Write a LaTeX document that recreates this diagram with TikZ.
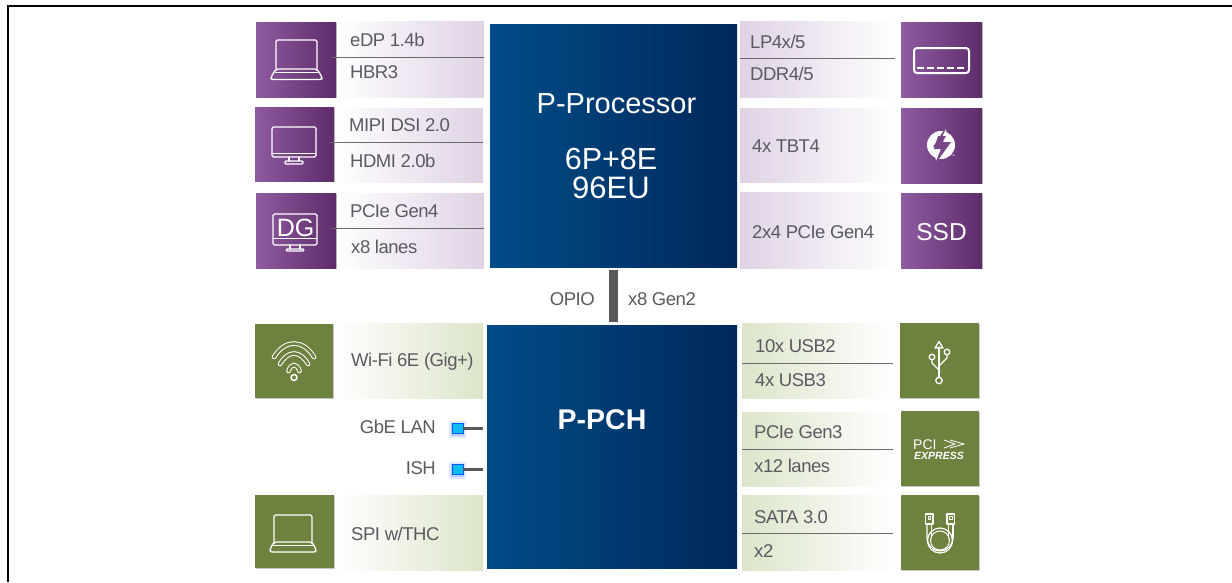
\documentclass[tikz,border=0pt]{standalone}
\usepackage{fontspec}
\setmainfont{Liberation Sans}
\newfontfamily\lblfont[LetterSpace=-2.5]{Liberation Sans}
\usetikzlibrary{shadows}
\definecolor{txt}{HTML}{5A5A60}
\definecolor{purL}{HTML}{8E5C9F}
\definecolor{purR}{HTML}{5E2C6B}
\definecolor{purS}{HTML}{DFD2E5}
\definecolor{grn}{HTML}{6E8240}
\definecolor{grnS}{HTML}{DCE5C9}
\definecolor{chipL}{HTML}{004C88}
\definecolor{chipR}{HTML}{00285A}
\definecolor{bar}{HTML}{595959}
\definecolor{port}{HTML}{10BDF2}
\tikzset{
  wh/.style 2 args={minimum width=#1pt,minimum height=#2pt,anchor=north west,inner sep=0pt,outer sep=0pt},
  softshadow/.style={drop shadow={shadow xshift=.8pt,shadow yshift=-.8pt,opacity=.22,fill=black}},
  pbox/.style={left color=purL,right color=purR,softshadow},
  gbox/.style={fill=grn,softshadow},
  chip/.style={left color=chipL,right color=chipR},
  stripL/.style={left color=white,right color=purS},
  stripR/.style={left color=purS,right color=white},
  gstripL/.style={left color=white,right color=grnS},
  gstripR/.style={left color=grnS,right color=white},
  sepline/.style={draw=black!58,line width=1pt},
  lbl/.style={anchor=base west,inner sep=0pt,text=txt,font=\lblfont\fontsize{18.5}{20}\selectfont},
  lblr/.style={lbl,anchor=base east},
  ttl/.style={anchor=base,inner sep=0pt,text=white},
  ic/.style={draw=white,line width=1.3pt,line join=round,line cap=round},
  conn/.style={draw=bar,line width=3pt},
  portbox/.style={wh={11}{10},fill=port,draw=blue!65!cyan,line width=.5pt},
}
\begin{document}
\begin{tikzpicture}[x=1pt,y=-1pt]
\useasboundingbox (0,0) rectangle (1232,582);
\fill[white] (0,0) rectangle (1232,582);
% page frame
\coordinate (fa) at (7.8,582);
\coordinate (fb) at (7.8,6.2);
\coordinate (fc) at (1232,6.2);
\draw[black,line width=1.5pt] (fa) -- (fb) -- (fc);

% strips
\node[wh={148}{76},stripL] (sa) at (336,21) {};
\node[wh={149}{74},stripL] (sb) at (334,108) {};
\node[wh={148}{75},stripL] (sc) at (336,193) {};
\node[wh={155}{76},stripR] (sd) at (740,21) {};
\node[wh={155}{74},stripR] (se) at (740,108) {};
\node[wh={155}{76},stripR] (sf) at (740,192) {};
\node[wh={150}{75},gstripL] (sg) at (333,323) {};
\node[wh={149}{75},gstripL] (sh) at (334,495) {};
\node[wh={151}{75},gstripR] (si) at (742,323) {};
\node[wh={151}{74},gstripR] (sj) at (742,412) {};
\node[wh={151}{75},gstripR] (sk) at (742,495) {};

% coloured icon boxes
\node[wh={80}{75},pbox] (ba) at (256,22) {};
\node[wh={79}{74},pbox] (bb) at (255,107) {};
\node[wh={80}{75},pbox] (bc) at (256,193) {};
\node[wh={81}{75},pbox] (bd) at (901,22) {};
\node[wh={81}{75},pbox] (be) at (901,108) {};
\node[wh={81}{75},pbox] (bf) at (901,193) {};
\node[wh={78}{74},gbox] (bg) at (255,324) {};
\node[wh={79}{73},gbox] (bh) at (255,495) {};
\node[wh={79}{75},gbox] (bi) at (900,323) {};
\node[wh={78}{75},gbox] (bj) at (901,411) {};
\node[wh={78}{75},gbox] (bk) at (901,495) {};

% chips
\node[wh={247}{243},chip] (proc) at (490,24) {};
\node[wh={250}{243},chip] (pch) at (487,325) {};
\node[ttl,font=\fontsize{29}{30}\selectfont] (tproc) at (616.5,113) {P-Processor};
\node[ttl,font=\fontsize{30.5}{30}\selectfont] (tcore) at (611,169) {6P+8E};
\node[ttl,font=\fontsize{31}{30}\selectfont] (teu) at (611,198) {96EU};
\node[ttl,font=\fontsize{28.5}{30}\selectfont\bfseries] (tpch) at (602,429.5) {P-PCH};

% OPIO link
\draw[draw=bar,line width=9pt,shorten <=3pt,shorten >=3pt] (proc.south) -- (proc.south |- pch.north);
\node[lblr] (opio) at (595,305) {OPIO};
\node[lbl] (gen2) at (628,305) {x8 Gen2};

% separators
\coordinate (la) at (331,57);
\coordinate (lb) at (330,142);
\coordinate (lc) at (331,228);
\coordinate (ld) at (740,58);
\coordinate (le) at (742,363);
\coordinate (lf) at (742,449);
\coordinate (lg) at (742,533);
\draw[sepline] (la) -- (la -| sa.east);
\draw[sepline] (lb) -- (lb -| sb.east);
\draw[sepline] (lc) -- (lc -| sc.east);
\draw[sepline] (ld) -- (ld -| sd.east);
\draw[sepline] (le) -- (le -| si.east);
\draw[sepline] (lf) -- (lf -| sj.east);
\draw[sepline] (lg) -- (lg -| sk.east);

% labels
\node[lbl] (t1) at (350,46) {eDP 1.4b};
\node[lbl] (t2) at (350,78) {HBR3};
\node[lbl] (t3) at (349,131) {MIPI DSI 2.0};
\node[lbl] (t4) at (350,167) {HDMI 2.0b};
\node[lbl] (t5) at (350,217) {PCIe Gen4};
\node[lbl] (t6) at (351,253) {x8 lanes};
\node[lbl] (t7) at (750,80) {DDR4/5};
\node[lbl] (t8) at (750,48) {LP4x/5};
\node[lbl] (t9) at (752,152) {4x TBT4};
\node[lbl] (t10) at (752,238) {2x4 PCIe Gen4};
\node[lbl] (t11) at (351,366) {Wi-Fi 6E (Gig+)};
\node[lblr] (t12) at (436,433) {GbE LAN};
\node[lblr] (t13) at (436,474) {ISH};
\node[lbl] (t14) at (351,540) {SPI w/THC};
\node[lbl] (t15) at (755,352) {10x USB2};
\node[lbl] (t16) at (755,386) {4x USB3};
\node[lbl] (t17) at (754,438) {PCIe Gen3};
\node[lbl] (t18) at (754,472) {x12 lanes};
\node[lbl] (t19) at (754,523) {SATA 3.0};
\node[lbl] (t20) at (754,557) {x2};

% ports
\fill[blue!70!cyan,opacity=.12] (449,421) rectangle (466,438);
\fill[blue!70!cyan,opacity=.18] (451,423) rectangle (464,436);
\fill[blue!70!cyan,opacity=.12] (449,462) rectangle (466,479);
\fill[blue!70!cyan,opacity=.18] (451,464) rectangle (464,477);
\node[portbox] (lan) at (452,423) {};
\node[portbox] (ish) at (452,464) {};
\draw[conn,shorten >=4pt] (lan.east) -- (lan.east -| pch.west);
\draw[conn,shorten >=4pt] (ish.east) -- (ish.east -| pch.west);

% laptop icon, purple
\draw[ic,rounded corners=1.5pt] (276,70) -- (276,40) -- (317,40) -- (317,70);
\draw[ic,rounded corners=2pt] (276,69) -- (317,69) -- (322,77) -- (322,79.5) -- (271,79.5) -- (271,77) -- cycle;
\draw[ic,line width=.7pt] (275,72) -- (318,72);
\draw[ic,line width=.7pt] (291,79.5) -- (302,79.5);

% monitor icon
\draw[ic,rounded corners=1.5pt] (272,127) rectangle (316,157);
\draw[ic,line width=.8pt] (272,153) -- (316,153);
\draw[ic] (289,157) -- (289,161) (299,157) -- (299,161);
\draw[ic,rounded corners=1pt] (285,161) rectangle (303,164);

% DG monitor icon
\draw[ic,rounded corners=1.5pt] (273,214) rectangle (317,245);
\draw[ic,line width=.8pt] (273,238) -- (317,238);
\node[inner sep=0pt,text=white,font=\fontsize{25}{25}\selectfont] (dg) at (295.5,228) {DG};
\draw[ic] (290,245) -- (290,249) (300,245) -- (300,249);
\draw[ic,rounded corners=1pt] (286,249) rectangle (304,251);

% memory icon
\draw[ic,line width=2pt,rounded corners=3pt] (914,48) rectangle (969,73);
\draw[draw=white,line width=1.3pt,dash pattern=on 7pt off 3pt] (917,68) -- (967,68);

% thunderbolt icon
\fill[white] (941,145) circle (14);
\fill[purL!55!purR] (946,127) -- (933,147) -- (940,147) -- (936,163) -- (951,142) -- (943,142) -- cycle;
\fill[white] (946,129) -- (940,141) -- (943.5,141) -- (946,136) -- cycle;
\fill[white] (936,161) -- (941,149) -- (937.5,149) -- (935,155) -- cycle;
\fill[purL!55!purR] (938,136) -- (946,136) -- (941,145) -- (948,145) -- (938,158) -- (941,149) -- (934,149) -- cycle;
\node[inner sep=0pt,text=white,font=\fontsize{4}{4}\selectfont] (tm) at (953,156) {™};

% SSD
\node[inner sep=0pt,text=white,font=\fontsize{24.5}{24}\selectfont] (ssd) at (941.5,232.5) {SSD};

% wifi icon
\foreach \a/\b/\c/\d in {274/357/285/339,280/364/288/350,288.5/371/291/363}{
  \pgfmathsetmacro{\cc}{2*294-\c}
  \pgfmathsetmacro{\aa}{2*294-\a}
  \draw[white,line width=4.6pt,line cap=round] (\a,\b) .. controls (\c,\d) and (\cc,\d) .. (\aa,\b);
  \draw[grn,line width=2.6pt,line cap=round] (\a,\b) .. controls (\c,\d) and (\cc,\d) .. (\aa,\b);
}
\draw[ic,line width=1.5pt] (294,377.5) circle (3);

% laptop icon, green
\draw[ic,rounded corners=1.5pt] (274,543) -- (274,515) -- (312,515) -- (312,543);
\draw[ic,rounded corners=2pt] (274,542) -- (312,542) -- (316,549) -- (316,552) -- (270,552) -- (270,549) -- cycle;
\draw[ic,line width=.7pt] (273,545) -- (313,545);

% usb icon
\draw[ic] (939,347) -- (939,377);
\draw[ic] (935,348) -- (939,341.5) -- (943,348) -- cycle;
\draw[ic] (932,360) -- (932,363) -- (939,370);
\draw[ic] (947,355) -- (947,358) -- (939,366);
\draw[ic] (932,357) circle (2.8);
\draw[ic] (947,352) circle (2.8);
\draw[ic] (939,380.5) circle (3.2);

% pci express logo
\node[inner sep=0pt,text=white,font=\fontsize{14}{14}\selectfont,anchor=base west] (pcit) at (913,449) {PCI};
\draw[draw=white,line width=.8pt] (944,440) -- (955,444) -- (944,448) (950,440) -- (964,444) -- (950,448);
\node[inner sep=0pt,text=white,font=\fontsize{10.5}{10}\selectfont\bfseries\itshape,anchor=base] (pcix) at (939,459) {EXPRESS};

% sata icon
\draw[ic,line width=1.2pt] (925.5,514) rectangle (933,524);
\draw[ic,line width=1.2pt] (947,514) rectangle (954.5,524);
\draw[ic,line width=.9pt] (928,516) rectangle (930.5,519);
\draw[ic,line width=.9pt] (949.5,516) rectangle (952,519);
\draw[ic,line width=1.2pt] (927,524) -- (927,538) arc[start angle=180,end angle=0,radius=13];
\draw[ic,line width=1.2pt] (953,538) -- (953,524);
\draw[ic,line width=1.2pt] (931.5,524) -- (931.5,538);
\draw[ic,line width=1.2pt] (948.5,524) -- (948.5,538);
\draw[ic,line width=1.2pt] (940,540.5) circle (12.5);
\draw[ic,line width=1pt] (940,540.5) circle (9.5);
\end{tikzpicture}
\end{document}
